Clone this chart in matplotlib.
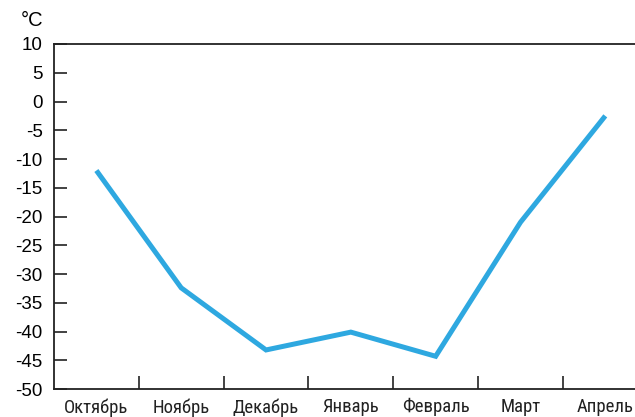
import matplotlib
matplotlib.use("Agg")
import matplotlib.pyplot as plt
from matplotlib import font_manager

months = ["Октябрь", "Ноябрь", "Декабрь", "Январь", "Февраль", "Март", "Апрель"]
temps = [-12, -32.4, -43.2, -40.1, -44.3, -21, -2.5]
yticks = [10, 5, 0, -5, -10, -15, -20, -25, -30, -35, -40, -45, -50]

names = {f.name for f in font_manager.fontManager.ttflist}
narrow = None
for cand in ["Liberation Sans Narrow", "Roboto Condensed", "Open Sans Condensed",
             "Noto Sans Condensed", "DejaVu Sans Condensed"]:
    if cand in names:
        narrow = cand
        break
if narrow is None:
    narrow = "DejaVu Sans"

fig = plt.figure(figsize=(6.35, 4.17), dpi=100)
ax = fig.add_axes([0.085, 0.067, 0.935, 0.8275])

x = list(range(len(months)))
ax.plot(x, temps, color="#2EA8E0", lw=3.6, solid_capstyle="butt", solid_joinstyle="miter", clip_on=False)

ax.set_xlim(-0.5, len(months) - 0.5)
ax.set_ylim(-50, 10)
ax.set_yticks(yticks)
ax.set_yticklabels([str(t) for t in yticks], fontsize=13.5, family="Liberation Sans")
ax.set_xticks([i + 0.5 for i in range(len(months) - 1)])
ax.set_xticklabels([])
ax.tick_params(axis="both", direction="in", length=9.5, width=1.2, color="#222222")
ax.tick_params(axis="y", pad=8)

for i, m in enumerate(months):
    ax.annotate(m, xy=(i, 0), xycoords=("data", "axes fraction"), xytext=(0, -6.5),
                textcoords="offset points", ha="center", va="top", fontsize=13.5,
                family=narrow, color="#222222", annotation_clip=False)

for s in ax.spines.values():
    s.set_linewidth(1.3)
    s.set_color("#222222")
ax.spines["right"].set_visible(False)

fig.text(32 / 635, 1 - 20 / 417, "°C", fontsize=14.5, family="Liberation Sans", ha="center", va="center")

fig.savefig("out.png", dpi=100)
